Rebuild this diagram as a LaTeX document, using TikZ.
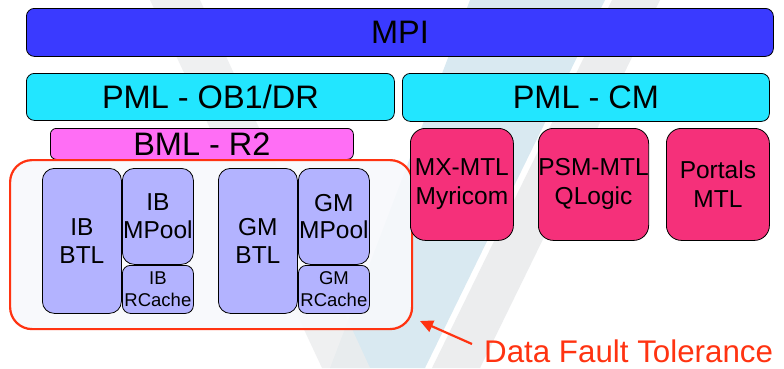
\documentclass[tikz,border=0pt]{standalone}
\usepackage{fontspec}
\setmainfont{Liberation Sans}
\usetikzlibrary{arrows.meta}

\definecolor{mpiblue}{RGB}{58,58,255}
\definecolor{pmlcyan}{RGB}{34,230,255}
\definecolor{bmlpink}{RGB}{255,110,245}
\definecolor{mtlred}{RGB}{245,48,122}
\definecolor{btlviolet}{RGB}{179,179,255}
\definecolor{ftred}{RGB}{255,51,17}
\definecolor{ftfill}{RGB}{248,249,252}
\definecolor{wmblue}{RGB}{208,228,238}
\definecolor{wmgray}{RGB}{236,237,238}

\tikzset{
  layer/.style={draw=black, line width=0.8pt, inner sep=0pt, anchor=north west,
    align=center, font=\fontsize{32.5}{34}\selectfont},
  mtlbox/.style={layer, fill=mtlred, rounded corners=15pt,
    font=\fontsize{24.5}{29}\selectfont},
  btlbox/.style={layer, fill=btlviolet, rounded corners=12pt,
    font=\fontsize{24.5}{27.5}\selectfont},
  smallbox/.style={layer, fill=btlviolet, rounded corners=8pt,
    font=\fontsize{18.5}{22}\selectfont},
}

\begin{document}
\begin{tikzpicture}[x=1pt, y=-1pt]
  \useasboundingbox (0,0) rectangle (784,368);
  \fill[white] (0,0) rectangle (784,368);

  % faint logo in the background
  \fill[wmblue, opacity=0.8] (470,0) -- (605,0) -- (425,368) -- (330,368) -- cycle;
  \fill[wmgray] (612,0) -- (660,0) -- (480,368) -- (432,368) -- cycle;
  \fill[wmgray, opacity=0.8] (150,0) -- (200,0) -- (370,368) -- (322,368) -- cycle;

  % top layers
  \node[layer, fill=mpiblue, rounded corners=8pt,
        minimum width=747pt, minimum height=48pt] (mpi) at (26,8) {MPI};
  \node[layer, fill=pmlcyan, rounded corners=8pt,
        minimum width=368pt, minimum height=47pt] (ob1) at (26,73) {PML - OB1/DR};
  \node[layer, fill=pmlcyan, rounded corners=8pt,
        minimum width=367pt, minimum height=48pt] (cm) at (402,73) {PML - CM};
  \node[layer, fill=bmlpink, rounded corners=6pt,
        minimum width=303pt, minimum height=31pt] (bml) at (50,128) {BML - R2};

  % fault tolerant region
  \node[draw=ftred, line width=2.2pt, fill=ftfill, fill opacity=0.9,
        rounded corners=22pt, inner sep=0pt, anchor=north west,
        minimum width=402pt, minimum height=169pt] (ft) at (9,159) {};

  \node[btlbox, minimum width=79pt, minimum height=145pt] (ibbtl) at (42,168) {IB\\BTL};
  \node[btlbox, minimum width=71pt, minimum height=96pt] (ibmp) at (122,168) {IB\\MPool};
  \node[smallbox, minimum width=71pt, minimum height=48pt] (ibrc) at (122,265) {IB\\RCache};
  \node[btlbox, minimum width=79pt, minimum height=145pt] (gmbtl) at (218,168) {GM\\BTL};
  \node[btlbox, minimum width=71pt, minimum height=96pt] (gmmp) at (298,168) {GM\\MPool};
  \node[smallbox, minimum width=71pt, minimum height=48pt] (gmrc) at (298,265) {GM\\RCache};

  % MTL components
  \node[mtlbox, minimum width=103pt, minimum height=112pt] (mx) at (410,128) {MX-MTL\\Myricom};
  \node[mtlbox, minimum width=104pt, minimum height=112pt] (psm) at (538,128) {PSM-MTL\\QLogic};
  \node[mtlbox, minimum width=103pt, minimum height=112pt] (portals) at (666,128) {Portals\\MTL};

  % annotation
  \node[anchor=base west, inner sep=0pt, text=ftred,
        font=\fontsize{31.3}{33}\selectfont] (dft) at (484,362) {Data Fault Tolerance};
  \coordinate (tail) at (472,344);
  \coordinate (tip) at (420,321);
  \draw[ftred, line width=2.2pt, -{Triangle[length=13pt,width=12pt]}] (tail) -- (tip);
\end{tikzpicture}
\end{document}
